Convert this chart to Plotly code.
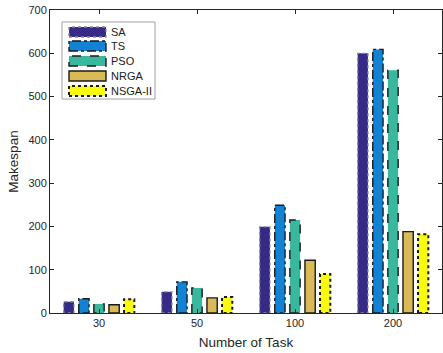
import plotly.graph_objects as go

categories = ["30", "50", "100", "200"]
series_names = ["SA", "TS", "PSO", "NRGA", "NSGA-II"]
sa = [26, 49, 199, 600]
ts = [33, 72, 249, 609]
pso = [21, 58, 215, 561]
nrga = [19, 35, 122, 188]
nsga2 = [32, 37, 90, 182]
values = [sa, ts, pso, nrga, nsga2]

colors = ["#352A87", "#1283D4", "#38B99E", "#D9BA56", "#F9FB0E"]
edge_colors = ["#8a8a9a", "#1a1a1a", "#1a1a1a", "#1a1a1a", "#1a1a1a"]
edge_dash = ["dot", "dashdot", "dash", "solid", "dot"]
edge_width = [1.3, 1.4, 1.4, 1.4, 2.0]

W, H = 443, 353
L, R, T, B = 50, 1, 10, 40
pw = W - L - R
ph = H - T - B

slot = 0.154
bw = 0.105

fig = go.Figure()
for k, (name, vals) in enumerate(zip(series_names, values)):
    xs = [i + 1 + (k - 2) * slot for i in range(len(categories))]
    fig.add_trace(go.Bar(x=xs, y=vals, width=bw, marker=dict(color=colors[k], line=dict(width=0)),
                         name=name, showlegend=False))
    ox, oy = [], []
    for x, v in zip(xs, vals):
        x0, x1 = x - bw / 2, x + bw / 2
        ox += [x0, x0, x1, x1, x0, None]
        oy += [0, v, v, 0, 0, None]
    fig.add_trace(go.Scatter(x=ox, y=oy, mode="lines", showlegend=False, hoverinfo="skip",
                             line=dict(color=edge_colors[k], dash=edge_dash[k], width=edge_width[k])))

# custom legend (pixel -> paper)
def px(x):
    return (x - L) / pw

def py(y):
    return (H - B - y) / ph

shapes = [dict(type="rect", xref="paper", yref="paper", x0=px(62), x1=px(155), y0=py(99), y1=py(22),
               line=dict(color="#a0a0a0", width=1), fillcolor="white", layer="above")]
annotations = []
row_y = [32, 46, 61, 76, 91]
for k, name in enumerate(series_names):
    yc = row_y[k]
    shapes.append(dict(type="rect", xref="paper", yref="paper", x0=px(69), x1=px(106),
                       y0=py(yc + 5), y1=py(yc - 5), fillcolor=colors[k],
                       line=dict(color=edge_colors[k], dash=edge_dash[k], width=edge_width[k]), layer="above"))
    annotations.append(dict(text=name, xref="paper", yref="paper", x=px(109), y=py(yc),
                            xanchor="left", yanchor="middle", showarrow=False,
                            font=dict(size=11, color="#1a1a1a")))

fig.update_layout(
    width=W, height=H, margin=dict(l=L, r=R, t=T, b=B, autoexpand=False),
    barmode="overlay", plot_bgcolor="white", paper_bgcolor="white",
    font=dict(family="Liberation Sans, Arial, sans-serif", size=11, color="#262626"),
    shapes=shapes, annotations=annotations, showlegend=False,
    xaxis=dict(range=[0.5, 4.5], tickmode="array", tickvals=[1, 2, 3, 4], ticktext=categories,
               showline=True, linecolor="#262626", linewidth=1, mirror="ticks",
               ticks="inside", ticklen=4, tickcolor="#262626", showgrid=False, zeroline=False,
               automargin=False,
               title=dict(text="Number of Task", font=dict(size=13.5), standoff=9)),
    yaxis=dict(range=[0, 700], tickvals=[0, 100, 200, 300, 400, 500, 600, 700],
               showline=True, linecolor="#262626", linewidth=1, mirror="ticks",
               ticks="inside", ticklen=4, tickcolor="#262626", showgrid=False, zeroline=False,
               automargin=False,
               title=dict(text="Makespan", font=dict(size=13.5), standoff=6)),
)

fig.write_html("out.html")
